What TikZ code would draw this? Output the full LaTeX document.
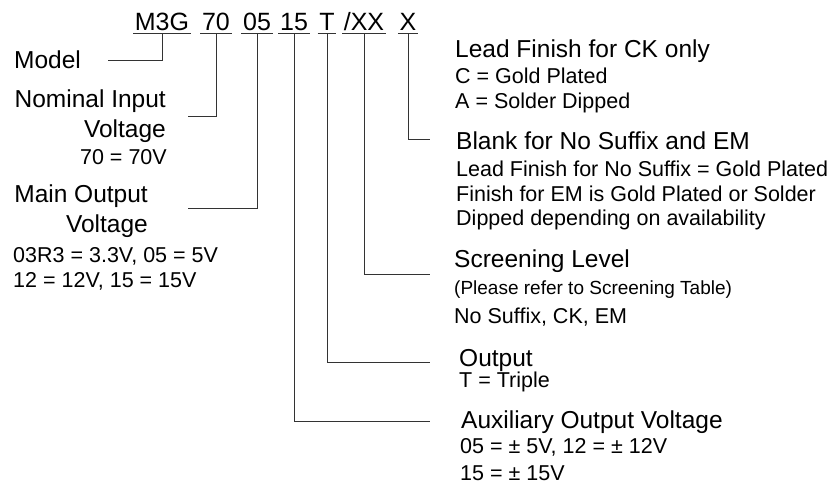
\documentclass[tikz,border=0pt]{standalone}
\usepackage{fontspec}
\setmainfont{Liberation Sans}
\usetikzlibrary{positioning}
\tikzstyle{pn}=[font=\fontsize{25}{30}\selectfont,anchor=base,inner xsep=1.5pt,inner ysep=0pt,text depth=3pt]
\tikzstyle{hd}=[font=\fontsize{24.5}{30}\selectfont,inner sep=0pt]
\tikzstyle{nt}=[font=\fontsize{21.5}{25}\selectfont,inner sep=0pt]
\tikzstyle{ln}=[draw=black!80,line width=1pt]

\begin{document}
\begin{tikzpicture}[x=1pt,y=-1pt]
  \useasboundingbox (0,0) rectangle (837,483);
  \node[pn] (p_mod) at (162,30) {M3G};
  \node[pn] (p_vin) at (216,30) {70};
  \node[pn] (p_vm)  at (257,30) {05};
  \node[pn] (p_va)  at (294,30) {15};
  \node[pn] (p_out) at (327,30) {T};
  \node[pn] (p_scr) at (364,30) {/XX};
  \node[pn] (p_fin) at (408,30) {X};
  \foreach \p in {p_mod,p_vin,p_vm,p_va,p_out,p_scr,p_fin}
    \draw[ln] (\p.south west) -- (\p.south east);

  % multi-line nodes sit on the baseline of their last line
  \node[hd,anchor=base west] (model) at (14,68) {Model};
  \node[hd,anchor=base east,align=right] (vin) at (166,137) {Nominal Input\\Voltage};
  \node[nt,anchor=base east] (vin_v) at (167,164) {70 = 70V};
  \node[hd,anchor=base east,align=right] (vm) at (148,232) {Main Output\\Voltage};
  \node[nt,anchor=base west,align=left] (vm_v) at (13,287) {03R3 = 3.3V, 05 = 5V\\12 = 12V, 15 = 15V};

  \node[hd,anchor=base west] (fin) at (455,57) {Lead Finish for CK only};
  \node[nt,anchor=base west,align=left] (fin_v) at (455,108) {C = Gold Plated\\A = Solder Dipped};
  \node[hd,anchor=base west] (blank) at (456,149) {Blank for No Suffix and EM};
  \node[nt,anchor=base west,align=left] (blank_v) at (456,225) {Lead Finish for No Suffix = Gold Plated\\[-0.5pt]Finish for EM is Gold Plated or Solder\\[-1pt]Dipped depending on availability};
  \node[hd,anchor=base west] (scr) at (454,267) {Screening Level};
  \node[nt,anchor=base west,font=\fontsize{19}{23}\selectfont] (scr_r) at (454,294) {(Please refer to Screening Table)};
  \node[nt,anchor=base west] (scr_v) at (454,323) {No Suffix, CK, EM};
  \node[hd,anchor=base west] (out) at (459,366) {Output};
  \node[nt,anchor=base west] (out_v) at (459,387) {T = Triple};
  \node[hd,anchor=base west] (va) at (461,428) {Auxiliary Output Voltage};
  \node[nt,anchor=base west,align=left] (va_v) at (460,480) {05 = ± 5V, 12 = ± 12V\\[2pt]15 = ± 15V};

  \coordinate (e_mod) at (108,60);
  \coordinate (e_vin) at (188,116);
  \coordinate (e_vm)  at (188,208);
  \coordinate (e_va)  at (430,421);
  \coordinate (e_out) at (430,362);
  \coordinate (e_scr) at (430,274);
  \coordinate (e_fin) at (430,139);
  \foreach \p/\e in {p_mod/e_mod,p_vin/e_vin,p_vm/e_vm,p_va/e_va,p_out/e_out,p_scr/e_scr,p_fin/e_fin}
    \draw[ln] (\p.south) |- (\e);
\end{tikzpicture}
\end{document}
